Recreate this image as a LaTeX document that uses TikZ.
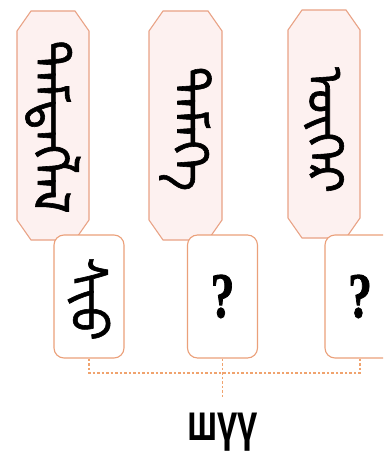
\documentclass[tikz,border=0pt]{standalone}
\usepackage{fontspec}
\usepackage{graphicx}
\newfontfamily\mongfont[Script=Mongolian,FakeBold=1.2]{Noto Sans Mongolian}
\newfontfamily\labfont{Liberation Sans}
\newfontfamily\qfont[BoldFeatures={FakeBold=1.5}]{Liberation Serif}
\definecolor{boxline}{HTML}{E9A285}
\definecolor{boxfill}{HTML}{FDF1F0}
\definecolor{smline}{HTML}{EBA07A}
\definecolor{dashcol}{HTML}{F0A36E}
\begin{document}
\begin{tikzpicture}[x=1pt,y=1pt,
  tallbox/.style={draw=boxline, fill=boxfill, line width=1.1pt},
  smallbox/.style={draw=smline, fill=white, line width=1.1pt, rounded corners=10pt,
    minimum width=70pt, minimum height=123pt, inner sep=0pt},
  mong/.style={font=\mongfont\fontsize{50}{50}\selectfont, rotate=-90, inner sep=0pt},
  qmark/.style={font=\qfont\bfseries\fontsize{64}{64}\selectfont},
  link/.style={draw=dashcol, line width=1.1pt, dash pattern=on 2.5pt off 2pt}]
\useasboundingbox (0,0) rectangle (383,-460);
\clip (0,0) rectangle (383,-460);
% tall chamfered boxes
\draw[tallbox] (31,-11) -- (75,-11) -- (89,-31) -- (89,-220) -- (75,-240) -- (31,-240) -- (17,-220) -- (17,-31) -- cycle;
\draw[tallbox] (163,-11) -- (208,-11) -- (222,-31) -- (222,-220) -- (208,-240) -- (163,-240) -- (149,-220) -- (149,-31) -- cycle;
\draw[tallbox] (302,-10) -- (346,-10) -- (360,-30) -- (360,-218) -- (346,-238) -- (302,-238) -- (288,-218) -- (288,-30) -- cycle;
\node[mong] (w1) at (53,-127) {ᠲᠡᠮᠳᠡᠭᠯᠡᠯ};
\node[mong] (w2) at (185.5,-129) {ᠲᠡᠮᠡᠭᠡ};
\node[mong] (w3) at (324,-130) {ᠦᠬᠡᠷ};
% small boxes
\node[smallbox] (s1) at (89,-296.5) {};
\node[mong] (w4) at (89,-299) {ᠰᠢᠦ};
\node[smallbox, qmark] (s2) at (222.5,-296.5) {\scalebox{0.75}[1]{?}};
\node[smallbox, qmark] (s3) at (360,-296.5) {\scalebox{0.75}[1]{?}};
% connectors
\coordinate (j) at (s2.south |- 0,-373);
\coordinate (e) at (222.5,-398);
\draw[link] (s1.south) |- (j);
\draw[link] (s3.south) |- (j);
\draw[link] (s2.south) -- (j) -- (e);
\node[font=\labfont\bfseries\fontsize{52}{52}\selectfont, inner sep=0pt, anchor=base] (lbl) at (222.5,-440) {\scalebox{0.7}[1]{шүү}};
\end{tikzpicture}
\end{document}
